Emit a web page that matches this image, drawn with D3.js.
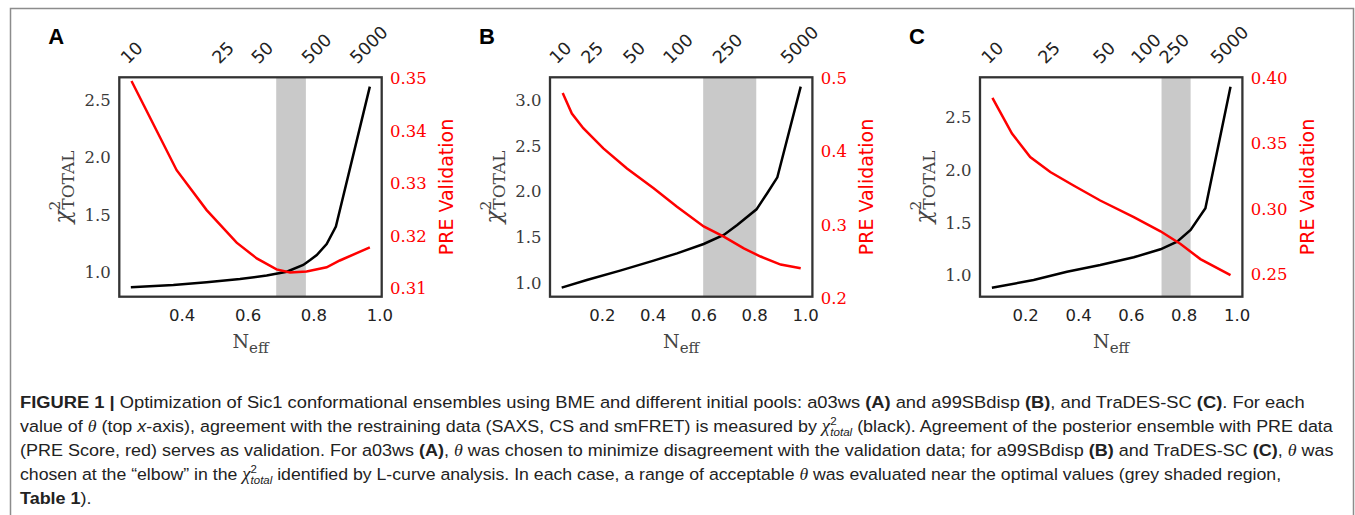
<!DOCTYPE html>
<html>
<head>
<meta charset="utf-8">
<title>Figure 1</title>
<style>
  body { margin: 0; background: #fff; }
  svg { display: block; }
</style>
</head>
<body>
<svg id="fig" width="1355" height="515"></svg>
<script src="https://cdnjs.cloudflare.com/ajax/libs/d3/7.8.5/d3.min.js"></script>
<script>
// ---- panel A (a03ws) ----
var neffChiA = [0.246, 0.375, 0.476, 0.577, 0.658, 0.719, 0.769, 0.790, 0.810, 0.840, 0.868, 0.971];
var chiA     = [0.869, 0.889, 0.913, 0.942, 0.971, 1.005, 1.064, 1.107, 1.150, 1.246, 1.397, 2.617];
var neffPreA = [0.248, 0.385, 0.476, 0.567, 0.628, 0.688, 0.729, 0.779, 0.840, 0.880, 0.971];
var preA     = [0.3495, 0.3325, 0.3249, 0.3187, 0.3157, 0.3136, 0.3130, 0.3132, 0.3140, 0.3153, 0.3178];
var thetaA   = [10, 25, 50, 500, 5000];
var thetaAtA = [0.247, 0.524, 0.643, 0.808, 0.966];
var bandA    = [0.687, 0.777];
var xLimA = [0.211, 1.007], chiLimA = [0.787, 2.698], preLimA = [0.3084, 0.3502];
var xTicksA = [0.4, 0.6, 0.8, 1.0];
var chiTicksA = [1.0, 1.5, 2.0, 2.5];
var preTicksA = [0.31, 0.32, 0.33, 0.34, 0.35];

// ---- panel B (a99SBdisp) ----
var neffChiB = [0.042, 0.141, 0.272, 0.404, 0.496, 0.601, 0.680, 0.733, 0.809, 0.851, 0.891, 0.983];
var chiB     = [0.953, 1.036, 1.138, 1.247, 1.327, 1.429, 1.527, 1.636, 1.807, 1.982, 2.156, 3.145];
var neffPreB = [0.046, 0.082, 0.127, 0.206, 0.299, 0.404, 0.496, 0.601, 0.680, 0.759, 0.825, 0.904, 0.983];
var preB     = [0.480, 0.452, 0.432, 0.4045, 0.377, 0.350, 0.325, 0.298, 0.284, 0.268, 0.257, 0.246, 0.241];
var thetaB   = [10, 25, 50, 100, 250, 5000];
var thetaAtB = [0.035, 0.160, 0.325, 0.498, 0.693, 0.976];
var bandB    = [0.599, 0.808];
var xLimB = [-0.004, 1.029], chiLimB = [0.854, 3.247], preLimB = [0.2022, 0.5014];
var xTicksB = [0.2, 0.4, 0.6, 0.8, 1.0];
var chiTicksB = [1.0, 1.5, 2.0, 2.5, 3.0];
var preTicksB = [0.2, 0.3, 0.4, 0.5];

// ---- panel C (TraDES-SC) ----
var neffChiC = [0.074, 0.232, 0.358, 0.484, 0.611, 0.712, 0.775, 0.826, 0.882, 0.977];
var chiC     = [0.886, 0.959, 1.038, 1.101, 1.174, 1.250, 1.322, 1.433, 1.638, 2.790];
var neffPreC = [0.076, 0.150, 0.219, 0.295, 0.383, 0.484, 0.611, 0.712, 0.788, 0.863, 0.977];
var preC     = [0.385, 0.3577, 0.3397, 0.3282, 0.3179, 0.3064, 0.2936, 0.2828, 0.2731, 0.2615, 0.2492];
var thetaC   = [10, 25, 50, 100, 250, 5000];
var thetaAtC = [0.074, 0.288, 0.497, 0.655, 0.762, 0.971];
var bandC    = [0.716, 0.826];
var xLimC = [0.029, 1.022], chiLimC = [0.801, 2.879], preLimC = [0.2327, 0.4008];
var xTicksC = [0.2, 0.4, 0.6, 0.8, 1.0];
var chiTicksC = [1.0, 1.5, 2.0, 2.5];
var preTicksC = [0.25, 0.30, 0.35, 0.40];

var panels = [
  {letter: "A", left: 119.3, neffChi: neffChiA, chi: chiA, neffPre: neffPreA, pre: preA, theta: thetaA, thetaAt: thetaAtA, band: bandA,
   xLim: xLimA, chiLim: chiLimA, preLim: preLimA, xTicks: xTicksA, chiTicks: chiTicksA, preTicks: preTicksA, preFmt: ".2f"},
  {letter: "B", left: 550, neffChi: neffChiB, chi: chiB, neffPre: neffPreB, pre: preB, theta: thetaB, thetaAt: thetaAtB, band: bandB,
   xLim: xLimB, chiLim: chiLimB, preLim: preLimB, xTicks: xTicksB, chiTicks: chiTicksB, preTicks: preTicksB, preFmt: ".1f"},
  {letter: "C", left: 980, neffChi: neffChiC, chi: chiC, neffPre: neffPreC, pre: preC, theta: thetaC, thetaAt: thetaAtC, band: bandC,
   xLim: xLimC, chiLim: chiLimC, preLim: preLimC, xTicks: xTicksC, chiTicks: chiTicksC, preTicks: preTicksC, preFmt: ".2f"}
];

var svg = d3.select("#fig");
var plotTop = 77.3, plotBottom = 296.7, pw = 262.4;
var SANS = "DejaVu Sans", SERIF = "DejaVu Serif";

// outer figure border
svg.append("path")
  .attr("d", "M10.5,515 V8.5 H1353.5 V515")
  .attr("fill", "none").attr("stroke", "#8c8c8c").attr("stroke-width", 1.5);

panels.forEach(function(p) {
  var g = svg.append("g");
  var right = p.left + pw;
  var x = d3.scaleLinear().domain(p.xLim).range([p.left, right]);
  var yL = d3.scaleLinear().domain(p.chiLim).range([plotBottom, plotTop]);
  var yR = d3.scaleLinear().domain(p.preLim).range([plotBottom, plotTop]);

  // shaded range of acceptable theta
  g.append("rect")
    .attr("x", x(p.band[0])).attr("width", x(p.band[1]) - x(p.band[0]))
    .attr("y", plotTop).attr("height", plotBottom - plotTop)
    .attr("fill", "#c9c9c9");

  var lineChi = d3.line().x(function(d) { return x(d[0]); }).y(function(d) { return yL(d[1]); });
  var linePre = d3.line().x(function(d) { return x(d[0]); }).y(function(d) { return yR(d[1]); });

  g.append("path").datum(d3.zip(p.neffChi, p.chi))
    .attr("d", lineChi).attr("fill", "none").attr("stroke", "#000").attr("stroke-width", 2.5);
  g.append("path").datum(d3.zip(p.neffPre, p.pre))
    .attr("d", linePre).attr("fill", "none").attr("stroke", "#ff0000").attr("stroke-width", 2.5);

  // frame
  g.append("rect").attr("x", p.left).attr("y", plotTop).attr("width", pw).attr("height", plotBottom - plotTop)
    .attr("fill", "none").attr("stroke", "#333").attr("stroke-width", 2.3);

  // bottom axis
  var axB = g.append("g").attr("transform", "translate(0," + plotBottom + ")")
    .call(d3.axisBottom(x).tickValues(p.xTicks).tickFormat(d3.format(".1f")).tickSize(0).tickPadding(13));
  axB.select(".domain").remove();
  axB.selectAll("text").attr("font-family", SANS).attr("font-size", 16.5).attr("fill", "#222");

  // left axis
  var axL = g.append("g").attr("transform", "translate(" + p.left + ",0)")
    .call(d3.axisLeft(yL).tickValues(p.chiTicks).tickFormat(d3.format(".1f")).tickSize(0).tickPadding(8.6));
  axL.select(".domain").remove();
  axL.selectAll("text").attr("font-family", SERIF).attr("font-size", 16.5).attr("fill", "#3a3a3a");

  // right axis
  var axR = g.append("g").attr("transform", "translate(" + right + ",0)")
    .call(d3.axisRight(yR).tickValues(p.preTicks).tickFormat(d3.format(p.preFmt)).tickSize(0).tickPadding(8.3));
  axR.select(".domain").remove();
  axR.selectAll("text").attr("font-family", SERIF).attr("font-size", 16.5).attr("fill", "#ff0000");

  // top axis: theta values
  var axT = g.append("g").attr("transform", "translate(0," + plotTop + ")")
    .call(d3.axisTop(x).tickValues(p.thetaAt)
      .tickFormat(function(d) { return p.theta[p.thetaAt.indexOf(d)]; }).tickSize(0));
  axT.select(".domain").remove();
  axT.selectAll("text").each(function() {
    var t = d3.select(this)
      .attr("font-family", SANS).attr("font-size", 17.5).attr("fill", "#222")
      .attr("y", 0).attr("dy", "0.35em").attr("text-anchor", "middle");
    var w = this.getComputedTextLength();
    var cy = -12.3 - (w + 12.8) * 0.7071 / 2;
    t.attr("transform", "translate(0," + cy + ") rotate(-45)");
  });

  // panel letter
  g.append("text").attr("x", p.left - 71).attr("y", 44)
    .attr("font-family", "Liberation Sans").attr("font-weight", "bold").attr("font-size", 22)
    .attr("fill", "#000").text(p.letter);

  // left label chi^2_TOTAL
  var cyMid = (plotTop + plotBottom) / 2;
  var yl = g.append("text")
    .attr("transform", "translate(" + (p.left - 49.3) + "," + cyMid + ") rotate(-90)")
    .attr("text-anchor", "middle").attr("font-family", SERIF).attr("fill", "#444");
  yl.append("tspan").attr("font-size", 22).attr("font-style", "italic").text("χ");
  yl.append("tspan").attr("font-size", 15).attr("dy", -10).text("2");
  yl.append("tspan").attr("font-size", 17).attr("dx", -9).attr("dy", 14).text("TOTAL");

  // right label
  var maxW = d3.max(axR.selectAll("text").nodes(), function(n) { return n.getBBox().width; });
  g.append("text")
    .attr("transform", "translate(" + (right + 8.3 + maxW + 19.5) + "," + cyMid + ") rotate(-90)")
    .attr("text-anchor", "middle").attr("dominant-baseline", "central")
    .attr("font-family", SANS).attr("font-size", 19).attr("fill", "#ff0000")
    .text("PRE Validation");

  // bottom label N_eff
  var xl = g.append("text")
    .attr("x", p.left + pw / 2).attr("y", 348)
    .attr("text-anchor", "middle").attr("font-family", SERIF).attr("fill", "#444");
  xl.append("tspan").attr("font-size", 19).text("N");
  xl.append("tspan").attr("font-size", 15).attr("dy", 5).text("eff");
});

// ---- caption ----
var caption = [
  [["FIGURE 1 |", "b"], [" Optimization of Sic1 conformational ensembles using BME and different initial pools: a03ws "], ["(A)", "b"],
   [" and a99SBdisp "], ["(B)", "b"], [", and TraDES-SC "], ["(C)", "b"], [". For each"]],
  [["value of "], ["θ", "i"], [" (top "], ["x", "is"], ["-axis), agreement with the restraining data (SAXS, CS and smFRET) is measured by "],
   ["", "chi"], [" (black). Agreement of the posterior ensemble with PRE data"]],
  [["(PRE Score, red) serves as validation. For a03ws "], ["(A)", "b"], [", "], ["θ", "i"],
   [" was chosen to minimize disagreement with the validation data; for a99SBdisp "], ["(B)", "b"], [" and TraDES-SC "], ["(C)", "b"],
   [", "], ["θ", "i"], [" was"]],
  [["chosen at the “elbow” in the "], ["", "chi"], [" identified by L-curve analysis. In each case, a range of acceptable "], ["θ", "i"],
   [" was evaluated near the optimal values (grey shaded region,"]],
  [["Table 1", "b"], [")."]]
];
var capY = [408, 432, 456, 480, 504];
var capEnd = [1306, 1334, 1334, 1282, null];
var capX = 20;
var scales = [];
var capNodes = [];

caption.forEach(function(line, li) {
  var t = svg.append("text")
    .attr("font-family", "Liberation Sans").attr("font-size", 17).attr("fill", "#222")
    .style("white-space", "pre");
  var shift = 0;
  line.forEach(function(seg) {
    var s = seg[1] || "";
    if (s === "chi") {
      t.append("tspan").attr("font-family", "Liberation Serif").attr("font-style", "italic").attr("font-size", 18)
        .attr("dy", shift ? -shift : null).text("χ");
      t.append("tspan").attr("font-size", 11).attr("dy", -7).text("2");
      t.append("tspan").attr("font-size", 11).attr("font-style", "italic").attr("dx", -6).attr("dy", 11).text("total");
      shift = 4;
      return;
    }
    var ts = t.append("tspan").attr("dy", shift ? -shift : null).text(seg[0]);
    shift = 0;
    if (s === "b") ts.attr("font-weight", "bold");
    if (s === "i") ts.attr("font-family", "Liberation Serif").attr("font-style", "italic").attr("font-size", 17);
    if (s === "is") ts.attr("font-style", "italic");
  });
  var w = t.node().getBBox().width;
  var sx = capEnd[li] ? (capEnd[li] - capX) / w : null;
  if (sx) scales.push(sx);
  capNodes.push({sel: t, sx: sx, y: capY[li]});
});
var meanSx = d3.mean(scales);
capNodes.forEach(function(c) {
  c.sel.attr("transform", "translate(" + capX + "," + c.y + ") scale(" + (c.sx || meanSx) + ",1)");
});
</script>
</body>
</html>
